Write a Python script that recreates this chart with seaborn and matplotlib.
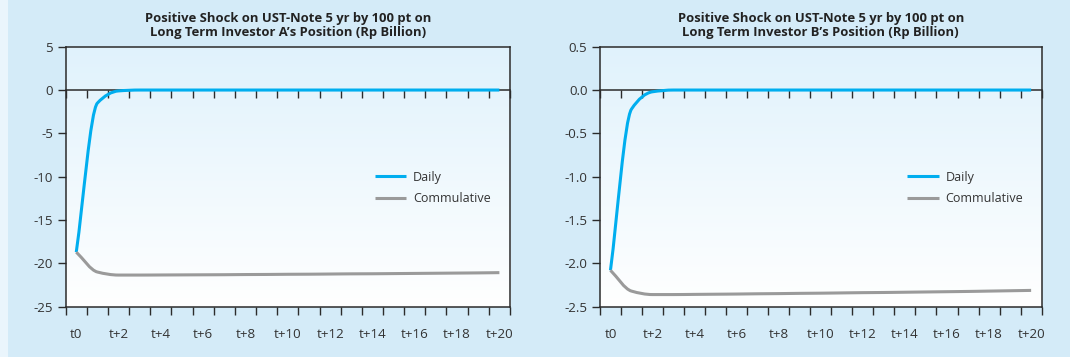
import numpy as np
import pandas as pd
import matplotlib
matplotlib.use("Agg")
import matplotlib.pyplot as plt
from matplotlib.colors import LinearSegmentedColormap
from matplotlib.ticker import FixedLocator, NullFormatter, FixedFormatter
from matplotlib.path import Path
from matplotlib.patches import PathPatch, Rectangle
import seaborn as sns

# ---- data -------------------------------------------------------------
periods = ["t0"] + [f"t+{i}" for i in range(1, 21)]

daily_a = [-18.7, -1.5, -0.1, 0.0, 0.0, 0.0, 0.0, 0.0, 0.0, 0.0, 0.0,
           0.0, 0.0, 0.0, 0.0, 0.0, 0.0, 0.0, 0.0, 0.0, 0.0]
cum_a = [-18.7, -21.0, -21.35, -21.35, -21.34, -21.33, -21.32, -21.31,
         -21.29, -21.28, -21.26, -21.25, -21.23, -21.21, -21.20, -21.18,
         -21.16, -21.14, -21.12, -21.10, -21.07]

daily_b = [-2.08, -0.22, -0.02, 0.0, 0.0, 0.0, 0.0, 0.0, 0.0, 0.0, 0.0,
           0.0, 0.0, 0.0, 0.0, 0.0, 0.0, 0.0, 0.0, 0.0, 0.0]
cum_b = [-2.08, -2.32, -2.36, -2.36, -2.358, -2.356, -2.354, -2.351,
         -2.349, -2.346, -2.344, -2.341, -2.338, -2.336, -2.333, -2.330,
         -2.327, -2.324, -2.320, -2.316, -2.312]

titles = [
    "Positive Shock on UST-Note 5 yr by 100 pt on\nLong Term Investor A\u2019s Position (Rp Billion)",
    "Positive Shock on UST-Note 5 yr by 100 pt on\nLong Term Investor B\u2019s Position (Rp Billion)",
]
yticks_a = [5, 0, -5, -10, -15, -20, -25]
ytick_labels_a = ["5", "0", "-5", "-10", "-15", "-20", "-25"]
yticks_b = [0.5, 0.0, -0.5, -1.0, -1.5, -2.0, -2.5]
ytick_labels_b = ["0.5", "0.0", "-0.5", "-1.0", "-1.5", "-2.0", "-2.5"]
series_names = ["Daily", "Commulative"]

# ---- style ------------------------------------------------------------
BG = "#d4ebf8"
TOP = "#e0f2fc"
BLUE = "#00aeef"
GREY = "#9a9a9a"
INK = "#2b2b2b"
TEXT = "#333333"

sns.set_theme(style="ticks")
plt.rcParams["font.family"] = ["Open Sans", "DejaVu Sans"]
plt.rcParams["axes.unicode_minus"] = False


def smooth_path(xy):
    """Cubic Bezier path through every point, monotone (Fritsch-Carlson) tangents."""
    pts = np.asarray(xy, dtype=float)
    xs, ys = pts[:, 0], pts[:, 1]
    h = np.diff(xs)
    d = np.diff(ys) / h
    m = np.zeros_like(ys)
    m[0], m[-1] = d[0], d[-1]
    for k in range(1, len(ys) - 1):
        a, b = d[k - 1], d[k]
        if a * b > 0:
            m[k] = 2.0 / (1.0 / a + 1.0 / b)
    verts = [pts[0]]
    codes = [Path.MOVETO]
    for i in range(len(pts) - 1):
        dx = h[i] / 3.0
        verts += [(xs[i] + dx, ys[i] + m[i] * dx),
                  (xs[i + 1] - dx, ys[i + 1] - m[i + 1] * dx),
                  (xs[i + 1], ys[i + 1])]
        codes += [Path.CURVE4] * 3
    return Path(verts, codes)


fig = plt.figure(figsize=(10.7, 3.59), dpi=100)
fig.patch.set_facecolor(BG)
# pale strip on the left edge and thin white line along the bottom
fig.patches.append(Rectangle((0, 0), 8 / 1070, 1, transform=fig.transFigure,
                             facecolor="#eaf5fc", edgecolor="none", zorder=0))
fig.patches.append(Rectangle((0, 0), 1, 2 / 359, transform=fig.transFigure,
                             facecolor="#ffffff", edgecolor="none", zorder=0))

grad_cmap = LinearSegmentedColormap.from_list("panel", [TOP, "#ffffff"])

panels = [
    dict(rect=[0.0614, 0.1457, 0.4152, 0.7242], daily=daily_a, cum=cum_a,
         ticks=yticks_a, labels=ytick_labels_a, title=titles[0]),
    dict(rect=[0.5607, 0.1457, 0.4128, 0.7242], daily=daily_b, cum=cum_b,
         ticks=yticks_b, labels=ytick_labels_b, title=titles[1]),
]

n = len(periods)
x = np.arange(n)

for p in panels:
    ax = fig.add_axes(p["rect"])
    ax.set_facecolor("none")
    # vertical gradient fill behind the plot area
    ax.imshow(np.linspace(0, 1, 256).reshape(-1, 1), cmap=grad_cmap,
              extent=[0, 1, 0, 1], transform=ax.transAxes, aspect="auto",
              zorder=0, interpolation="bicubic")

    df = pd.DataFrame({"x": np.concatenate([x, x]),
                       "value": p["daily"] + p["cum"],
                       "series": [series_names[0]] * n + [series_names[1]] * n})
    sns.lineplot(data=df, x="x", y="value", hue="series",
                 palette=[BLUE, GREY], linewidth=2.2, ax=ax, zorder=3,
                 solid_capstyle="butt")

    ymin, ymax = min(p["ticks"]), max(p["ticks"])
    ax.set_xlim(-0.5, n - 0.5)
    ax.set_ylim(ymin, ymax)
    ax.set_xlabel("")
    ax.set_ylabel("")

    for s in ax.spines.values():
        s.set_visible(True)
        s.set_color(INK)
        s.set_linewidth(1.1)

    # y axis
    ax.yaxis.set_major_locator(FixedLocator(p["ticks"]))
    ax.yaxis.set_major_formatter(FixedFormatter(p["labels"]))
    ax.tick_params(axis="y", direction="out", length=6, width=1.0,
                   color=INK, labelsize=9.6, labelcolor=TEXT, pad=3)

    # x axis: tick marks on category boundaries, labels on every other category
    ax.xaxis.set_major_locator(FixedLocator(x[::2]))
    ax.xaxis.set_major_formatter(FixedFormatter(periods[::2]))
    ax.xaxis.set_minor_locator(FixedLocator(np.arange(n + 1) - 0.5))
    ax.tick_params(axis="x", which="major", length=0, labelsize=9.6,
                   labelcolor=TEXT, pad=15)
    ax.tick_params(axis="x", which="minor", direction="out", length=6,
                   width=1.0, color=INK)

    # zero line with its own downward tick marks
    zero_pos = (0 - ymin) / (ymax - ymin)
    sec = ax.secondary_xaxis(zero_pos)
    sec.set_xticks(np.arange(n + 1) - 0.5)
    sec.xaxis.set_major_formatter(NullFormatter())
    sec.tick_params(axis="x", direction="in", length=6, width=1.0, color=INK)
    sec.spines["top"].set_color(INK)
    sec.spines["top"].set_linewidth(1.1)
    sec.spines["bottom"].set_visible(False)

    ax.set_title(p["title"], fontsize=9.4, fontweight="bold", color="#222222",
                 pad=8, linespacing=1.1)

    leg = ax.legend(loc="upper left", bbox_to_anchor=(0.696, 0.523),
                    frameon=False, fontsize=9, handlelength=2.5,
                    handletextpad=0.55, labelspacing=0.7, borderpad=0,
                    borderaxespad=0)
    for t in leg.get_texts():
        t.set_color(TEXT)

    # redraw each series as a smoothed curve through its points
    for line in list(ax.get_lines()):
        xy = line.get_xydata()
        if len(xy) < 2:
            continue
        curve = PathPatch(smooth_path(xy), fill=False,
                          edgecolor=line.get_color(),
                          linewidth=line.get_linewidth(), zorder=3,
                          capstyle="butt", joinstyle="round")
        ax.add_patch(curve)
        line.remove()

fig.savefig("out.png", dpi=100, facecolor=fig.get_facecolor())
